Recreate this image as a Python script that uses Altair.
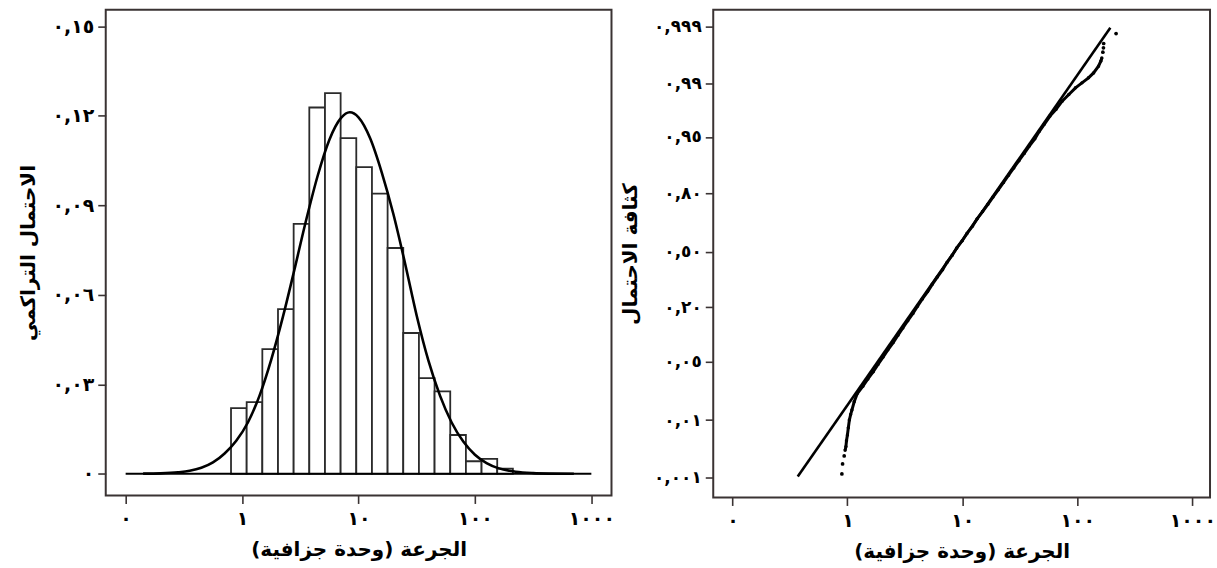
import altair as alt
import pandas as pd

# ---------------- data ----------------
# Left panel: histogram on log10(dose) axis
bin_edges_log = [-0.095, 0.0395, 0.174, 0.3085, 0.443, 0.5775, 0.712, 0.8465, 0.981,
                 1.1155, 1.250, 1.3845, 1.519, 1.6535, 1.788, 1.9225, 2.057, 2.1915, 2.326]
bin_heights = [0.0220, 0.0240, 0.0418, 0.0552, 0.0838, 0.1228, 0.1276, 0.1125, 0.1028,
               0.0939, 0.0757, 0.0472, 0.0321, 0.0276, 0.0130, 0.0042, 0.0050, 0.0017]

curve_log = [-0.85, -0.70, -0.55, -0.45, -0.35, -0.25, -0.15, -0.05, 0.05, 0.15, 0.25, 0.35,
             0.45, 0.55, 0.65, 0.75, 0.85, 0.925, 1.00, 1.10, 1.20, 1.30, 1.40, 1.50, 1.60,
             1.70, 1.80, 1.90, 2.00, 2.10, 2.20, 2.35, 2.50, 2.65, 2.85]
curve_val = [0.00004, 0.00015, 0.0005, 0.0010, 0.0020, 0.0038, 0.0068, 0.0111, 0.0172, 0.0262,
             0.0382, 0.0525, 0.0685, 0.0850, 0.1000, 0.1120, 0.1193, 0.1212, 0.1195, 0.1125,
             0.1010, 0.0870, 0.0705, 0.0530, 0.0380, 0.0262, 0.0172, 0.0108, 0.0064, 0.0036,
             0.0019, 0.0007, 0.00022, 0.00006, 0.0000]

# Right panel: probability plot (x = log10 dose, y = probability score)
body_log = [-0.020, -0.013, -0.008, 0.000, 0.008, 0.017, 0.028, 0.039, 0.059, 0.086,
            0.135, 0.178, 0.225, 0.266, 0.310, 0.352, 0.398, 0.440, 0.482, 0.525,
            0.570, 0.610, 0.652, 0.698, 0.738, 0.782, 0.828, 0.866, 0.912, 0.951,
            0.999, 1.040, 1.088, 1.128, 1.176, 1.222, 1.266, 1.312, 1.358, 1.402,
            1.447, 1.492, 1.538, 1.582, 1.630, 1.668, 1.712, 1.762, 1.815, 1.868,
            1.926, 1.984, 2.040, 2.097, 2.141, 2.184, 2.205, 2.213]
body_score = [-2.73, -2.68, -2.60, -2.52, -2.42, -2.315, -2.24, -2.178, -2.064, -1.95,
              -1.85, -1.75, -1.65, -1.55, -1.45, -1.35, -1.25, -1.15, -1.05, -0.95,
              -0.85, -0.75, -0.65, -0.55, -0.45, -0.35, -0.25, -0.15, -0.05, 0.05,
              0.15, 0.25, 0.35, 0.45, 0.55, 0.65, 0.75, 0.85, 0.95, 1.05,
              1.15, 1.25, 1.35, 1.45, 1.55, 1.65, 1.749, 1.863, 1.955, 2.068,
              2.160, 2.251, 2.319, 2.388, 2.456, 2.548, 2.62, 2.662]
tail_log = [-0.048, -0.042, -0.028, 2.222, 2.227, 2.229, 2.337]
tail_score = [-3.055, -2.918, -2.808, 2.74, 2.80, 2.86, 2.996]
fit_log = [-0.432, 2.287]
fit_score = [-3.092, 3.077]

# Axis ticks and labels
x_tick_vals = [-1, 0, 1, 2, 3]
x_tick_labels = ["٠", "١", "١٠", "١٠٠", "١٠٠٠"]
hist_y_vals = [0, 0.03, 0.06, 0.09, 0.12, 0.15]
hist_y_labels = ["٠", "٠,٠٣", "٠,٠٦", "٠,٠٩", "٠,١٢", "٠,١٥"]
prob_y_vals = [-3.100, -2.315, -1.516, -0.763, 0, 0.804, 1.575, 2.311, 3.089]
prob_y_labels = ["٠,٠٠١", "٠,٠١", "٠,٠٥", "٠,٢٠", "٠,٥٠", "٠,٨٠", "٠,٩٥", "٠,٩٩", "٠,٩٩٩"]

x_title = "الجرعة (وحدة جزافية)"
hist_y_title = "الاحتمال التراكمي"
prob_y_title = "كثافة الاحتمال"


def label_expr(values, labels):
    vals = "[" + ",".join(repr(v) for v in values) + "]"
    labs = "[" + ",".join("'" + s + "'" for s in labels) + "]"
    return f"{labs}[indexof({vals}, datum.value)]"


# ---------------- tables ----------------
bars_df = pd.DataFrame({
    "x0": bin_edges_log[:-1],
    "x1": bin_edges_log[1:],
    "h": bin_heights,
    "z": [0.0] * len(bin_heights),
})
curve_df = pd.DataFrame({"lx": curve_log, "v": curve_val})
base_df = pd.DataFrame({"x0": [x_tick_vals[0]], "x1": [x_tick_vals[-1]], "z": [0.0]})
body_df = pd.DataFrame({"lx": body_log, "s": body_score})
tail_df = pd.DataFrame({"lx": tail_log, "s": tail_score})
fit_df = pd.DataFrame({"lx": fit_log, "s": fit_score})

LW, LH = 507, 487
RW, RH = 498, 489

# ---------------- left panel ----------------
hx_scale = alt.Scale(domain=[-1.171, 3.173], nice=False, zero=False)
hy_scale = alt.Scale(domain=[-0.00727, 0.1556], nice=False, zero=False)
hx_axis = alt.Axis(values=x_tick_vals, labelExpr=label_expr(x_tick_vals, x_tick_labels),
                   title=x_title)
hy_axis = alt.Axis(values=hist_y_vals, labelExpr=label_expr(hist_y_vals, hist_y_labels),
                   title=hist_y_title, titleX=-67, titleY=LH / 2, labelFontSize=19)

bars = alt.Chart(bars_df).mark_rect(fill="white", stroke="#2b2b2b", strokeWidth=1.8).encode(
    x=alt.X("x0:Q", scale=hx_scale, axis=hx_axis),
    x2="x1:Q",
    y=alt.Y("z:Q", scale=hy_scale, axis=hy_axis),
    y2="h:Q",
)
baseline = alt.Chart(base_df).mark_rule(color="black", strokeWidth=2).encode(
    x=alt.X("x0:Q", scale=hx_scale, axis=hx_axis),
    x2="x1:Q",
    y=alt.Y("z:Q", scale=hy_scale, axis=hy_axis),
)
curve = alt.Chart(curve_df).mark_line(color="black", strokeWidth=2.6, interpolate="monotone").encode(
    x=alt.X("lx:Q", scale=hx_scale, axis=hx_axis),
    y=alt.Y("v:Q", scale=hy_scale, axis=hy_axis),
)
left = alt.layer(bars, baseline, curve).properties(width=LW, height=LH)

# ---------------- right panel ----------------
px_scale = alt.Scale(domain=[-1.167, 3.154], nice=False, zero=False)
py_scale = alt.Scale(domain=[-3.379, 3.325], nice=False, zero=False)
px_axis = alt.Axis(values=x_tick_vals, labelExpr=label_expr(x_tick_vals, x_tick_labels),
                   title=x_title)
py_axis = alt.Axis(values=prob_y_vals, labelExpr=label_expr(prob_y_vals, prob_y_labels),
                   title=prob_y_title, titleX=-73, titleY=RH / 2, labelFontSize=17)

fit = alt.Chart(fit_df).mark_line(color="black", strokeWidth=2.6).encode(
    x=alt.X("lx:Q", scale=px_scale, axis=px_axis),
    y=alt.Y("s:Q", scale=py_scale, axis=py_axis),
)
body_line = alt.Chart(body_df).mark_line(color="black", strokeWidth=3).encode(
    x=alt.X("lx:Q", scale=px_scale, axis=px_axis),
    y=alt.Y("s:Q", scale=py_scale, axis=py_axis),
    order="s:Q",
)
body_pts = alt.Chart(body_df).mark_circle(color="black", size=12, opacity=1).encode(
    x=alt.X("lx:Q", scale=px_scale, axis=px_axis),
    y=alt.Y("s:Q", scale=py_scale, axis=py_axis),
)
tail_pts = alt.Chart(tail_df).mark_circle(color="black", size=14, opacity=1).encode(
    x=alt.X("lx:Q", scale=px_scale, axis=px_axis),
    y=alt.Y("s:Q", scale=py_scale, axis=py_axis),
)
right = alt.layer(fit, body_line, body_pts, tail_pts).properties(width=RW, height=RH)

chart = (
    alt.hconcat(left, right, spacing=3)
    .properties(padding={"left": 18, "top": 8, "right": 0, "bottom": 0}, background="white")
    .configure_view(stroke="#3a3333", strokeWidth=2)
    .configure_axis(
        domain=False,
        grid=False,
        ticks=True,
        tickColor="#3a3333",
        tickWidth=1.6,
        tickSize=8,
        labelFont="DejaVu Sans",
        labelFontSize=19,
        labelFontWeight="bold",
        labelColor="black",
        labelPadding=4,
        titleFont="DejaVu Sans",
        titleFontWeight="bold",
        titleFontSize=20,
        titleColor="black",
    )
    .configure_axisX(titlePadding=11, labelPadding=6)
)

chart.save("out.html", embed_options={"renderer": "svg", "actions": False})
